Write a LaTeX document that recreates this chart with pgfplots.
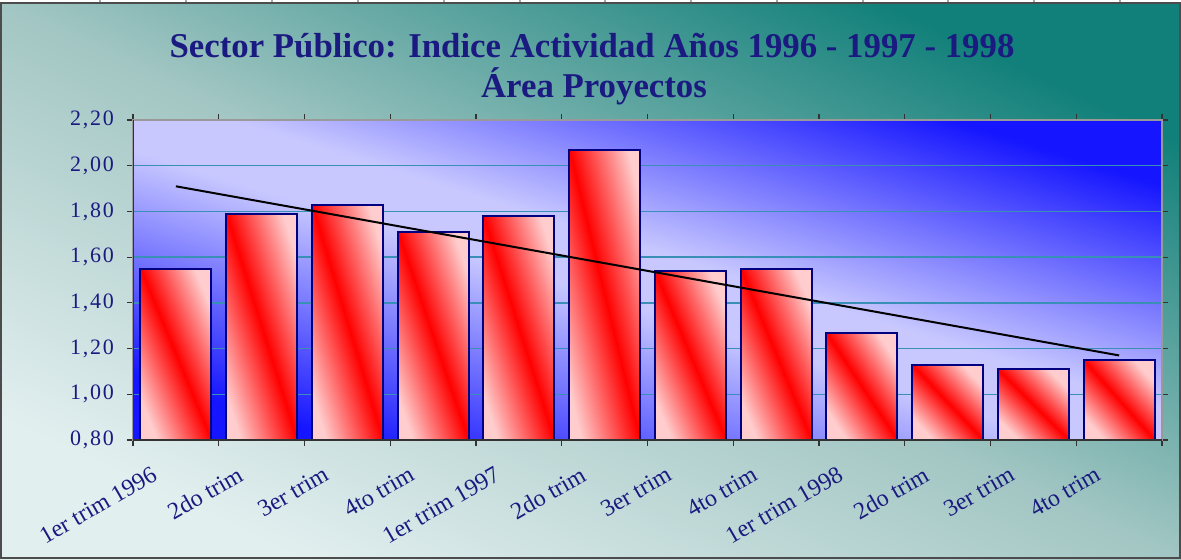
\documentclass[border=0pt]{standalone}
\usepackage{fontspec}
\setmainfont{Liberation Serif}
\newfontfamily\tickfont[LetterSpace=8]{Liberation Serif}
\usepackage{pgfplots}
\pgfplotsset{compat=1.18}

\definecolor{navy}{HTML}{1A1A80}
\definecolor{barline}{HTML}{000080}
\definecolor{gridc}{HTML}{3A8FB7}
\definecolor{bglight}{HTML}{E2EFEF}
\definecolor{bgmid}{HTML}{A2C6C3}
\definecolor{bgteal}{HTML}{12807A}
\definecolor{pblue}{HTML}{1515FF}
\definecolor{plav}{HTML}{C8C8FF}
\definecolor{pinkc}{HTML}{FFCDCD}
\definecolor{redc}{HTML}{FF0000}

% gradients; the extreme corners of a shaded box fall at 25bp and 75bp
\pgfdeclarehorizontalshading{bgshade}{100bp}{color(0bp)=(bglight); color(25bp)=(bglight); color(50bp)=(bgmid); color(75bp)=(bgteal); color(100bp)=(bgteal)}
\pgfdeclarehorizontalshading{plotshade}{100bp}{color(0bp)=(pblue); color(25bp)=(pblue); color(47bp)=(plav); color(53bp)=(plav); color(75bp)=(pblue); color(100bp)=(pblue)}
\pgfdeclarehorizontalshading{barshade}{100bp}{color(0bp)=(pinkc); color(25bp)=(pinkc); color(50bp)=(redc); color(75bp)=(pinkc); color(100bp)=(pinkc)}

\pgfplotsset{
  onebar/.style={ybar, bar width=35.5pt, bar shift=0pt, draw=barline,
    line width=1pt, shading=barshade, shading angle=#1},
}

\begin{document}
\begin{tikzpicture}
\useasboundingbox (0,0) rectangle (590.5pt,279.5pt);
% chart area
\shade[shading=bgshade, shading angle=64.8] (0,0) rectangle (590.5pt,278pt);
\fill[white] (0,278pt) rectangle (590.5pt,279.5pt);
\foreach \x in {100,186,272,358,444,520,605,691,777,863,948,1034,1120}
  \draw[gray!70, line width=0.6pt] (\x*0.5pt,278pt) -- (\x*0.5pt,279.5pt);
\draw[black!70, line width=1pt] (0.5pt,0.5pt) rectangle (590pt,278pt);

\node[font=\fontsize{17.4}{20}\selectfont\bfseries, text=navy, anchor=base]
  at (296pt,251pt) {Sector Público: Indice Actividad Años 1996 - 1997 - 1998};
\node[font=\fontsize{17.4}{20}\selectfont\bfseries, text=navy, anchor=base]
  at (297pt,231pt) {Área Proyectos};

\begin{axis}[
  at={(66.5pt,59.5pt)}, anchor=south west,
  scale only axis, width=514.5pt, height=160pt,
  xmin=-0.5, xmax=11.5, ymin=0.8, ymax=2.2,
  axis background/.style={shading=plotshade, shading angle=72.7},
  axis line style={draw=gray!80, line width=0.6pt},
  ytick={0.8,1,1.2,1.4,1.6,1.8,2,2.2},
  ymajorgrids, grid style={draw=gridc, line width=0.7pt},
  tick align=outside, major tick length=3pt,
  tick style={draw=black!80, line width=0.6pt},
  xtick={-0.5,0.5,...,11.5}, xticklabels={},
  extra x ticks={-0.37,0.63,...,10.63},
  extra x tick labels={1er trim 1996, 2do trim, 3er trim, 4to trim,
    1er trim 1997, 2do trim, 3er trim, 4to trim,
    1er trim 1998, 2do trim, 3er trim, 4to trim},
  extra x tick style={major tick length=0pt, grid=none},
  xticklabel style={font=\fontsize{12}{14}\selectfont, text=navy,
    rotate=30, anchor=north east, yshift=-9pt},
  yticklabel style={font=\tickfont\fontsize{11}{13}\selectfont, text=navy,
    xshift=-3pt},
  /pgf/number format/.cd, fixed, fixed zerofill, precision=2, use comma,
  assume math mode=true,
]
% one plot per bar, so that each bar gets its own corner-to-corner gradient
\addplot[onebar=22.5] coordinates {(0,1.55)};
\addplot[onebar=17.4] coordinates {(1,1.79)};
\addplot[onebar=16.8] coordinates {(2,1.83)};
\addplot[onebar=18.8] coordinates {(3,1.71)};
\addplot[onebar=17.6] coordinates {(4,1.78)};
\addplot[onebar=13.7] coordinates {(5,2.07)};
\addplot[onebar=22.8] coordinates {(6,1.54)};
\addplot[onebar=22.5] coordinates {(7,1.55)};
\addplot[onebar=33.5] coordinates {(8,1.27)};
\addplot[onebar=43.3] coordinates {(9,1.13)};
\addplot[onebar=45.0] coordinates {(10,1.11)};
\addplot[onebar=41.6] coordinates {(11,1.15)};
% linear trend line
\addplot[black, line width=1pt, no marks] coordinates {(0,1.91) (11,1.17)};
\draw[black!80, line width=0.8pt] (rel axis cs:0,1) -- (rel axis cs:0,0) -- (rel axis cs:1,0);
\end{axis}
\end{tikzpicture}
\end{document}
